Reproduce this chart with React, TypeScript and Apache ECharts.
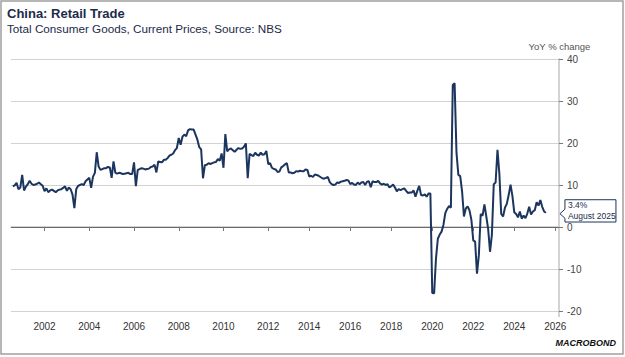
import React, { useEffect, useRef } from "react";
import * as echarts from "echarts";

// ---- Data (YoY % change, monthly; from 2012 January is not published separately) ----
const yoy2000 = [null, 9.7, 9.9, 10.5, 9.0, 9.4]; // Jul..Dec
const yoy2001 = [12.4, 8.7, 9.6, 10.2, 11.0, 10.3, 10.0, 10.1, 10.3, 10.6, 10.2, 9.8];
const yoy2002 = [8.5, 9.2, 8.3, 8.7, 8.9, 8.6, 8.3, 8.7, 8.9, 9.0, 9.3, 9.7];
const yoy2003 = [8.6, 9.4, 9.0, 7.7, 4.5, 9.0, 9.8, 10.0, 10.2, 10.0, 10.9, 11.3];
const yoy2004 = [11.7, 9.3, 12.0, 12.9, 17.8, 14.4, 13.6, 13.8, 14.0, 14.0, 14.3, 14.2];
const yoy2005 = [11.7, 15.6, 12.9, 12.7, 12.9, 12.8, 12.6, 12.7, 12.8, 12.9, 12.6, 12.6];
const yoy2006 = [15.4, 9.7, 13.6, 13.8, 14.0, 13.9, 13.7, 13.8, 13.9, 14.3, 14.4, 14.8];
const yoy2007 = [13.0, 15.6, 15.5, 15.4, 16.0, 16.0, 16.4, 17.0, 17.2, 17.5, 18.3, 18.8];
const yoy2008 = [21.2, 19.6, 21.5, 22.0, 21.6, 23.0, 23.3, 23.2, 23.2, 22.0, 20.8, 19.0];
const yoy2009 = [18.5, 11.6, 14.7, 14.8, 15.2, 15.0, 15.2, 15.4, 15.5, 16.2, 15.8, 17.5];
const yoy2010 = [14.1, 22.1, 18.0, 18.5, 18.7, 18.3, 17.9, 18.4, 18.8, 18.6, 18.7, 19.1];
const yoy2011 = [19.9, 11.6, 17.4, 17.1, 16.9, 17.7, 17.2, 17.0, 17.7, 17.2, 17.3, 18.1];
// Feb..Dec
const yoy2012 = [15.0, 15.2, 14.1, 13.8, 13.7, 13.1, 13.2, 14.2, 14.5, 14.9, 15.2];
const yoy2013 = [13.0, 13.0, 12.8, 12.9, 13.3, 13.2, 13.4, 13.3, 13.3, 13.7, 13.6];
const yoy2014 = [12.0, 12.2, 11.9, 12.5, 12.4, 12.2, 11.9, 11.6, 11.5, 11.7, 11.9];
const yoy2015 = [10.7, 10.2, 10.0, 10.1, 10.6, 10.5, 10.8, 10.9, 11.0, 11.2, 11.1];
const yoy2016 = [10.2, 10.5, 10.1, 10.0, 10.6, 10.2, 10.6, 10.7, 10.0, 10.8, 10.9];
const yoy2017 = [9.5, 10.9, 10.7, 10.7, 11.0, 10.4, 10.1, 10.3, 10.0, 10.2, 9.4];
const yoy2018 = [9.7, 10.1, 9.4, 8.5, 9.0, 8.8, 9.0, 9.2, 8.6, 8.1, 8.2];
const yoy2019 = [8.2, 8.7, 7.2, 8.6, 9.8, 7.6, 7.5, 7.8, 7.2, 8.0, 8.0];
const yoy2020 = [-15.7, -15.8, -7.5, -2.8, -1.8, -1.1, 0.5, 3.3, 4.3, 5.0, 4.6];
const yoy2021 = [33.8, 34.2, 17.7, 12.4, 12.1, 8.5, 2.5, 4.4, 4.9, 3.9, 1.7];
const yoy2022 = [-3.2, -3.5, -11.1, -6.7, 3.1, 2.7, 5.4, 2.5, -0.5, -5.9, -1.8];
const yoy2023 = [10.2, 10.6, 18.4, 12.7, 3.1, 2.5, 4.6, 5.5, 7.6, 10.1, 7.4];
const yoy2024 = [3.5, 3.1, 2.3, 3.7, 2.0, 2.7, 2.1, 3.2, 4.8, 3.0, 3.7];
const yoy2025 = [4.0, 5.9, 5.1, 6.4, 4.8, 3.7, 3.4]; // Feb..Aug

const yTicks = { min: -20, max: 40, interval: 10 };
const lastLabel = ["3.4%", "August 2025"];

const TITLE = "China: Retail Trade";
const SUBTITLE = "Total Consumer Goods, Current Prices, Source: NBS";
const Y_NAME = "YoY % change";

// categories: Jul 2000 .. Apr 2026, January omitted from 2012 on
const categories: string[] = [];
for (let y = 2000; y <= 2026; y++) {
  for (let m = 1; m <= 12; m++) {
    if (y === 2000 && m < 7) continue;
    if (y >= 2012 && m === 1) continue;
    if (y === 2026 && m > 4) break;
    categories.push(`${y}-${String(m).padStart(2, "0")}`);
  }
}

const values: (number | null)[] = [
  ...yoy2000, ...yoy2001, ...yoy2002, ...yoy2003, ...yoy2004, ...yoy2005,
  ...yoy2006, ...yoy2007, ...yoy2008, ...yoy2009, ...yoy2010, ...yoy2011,
  ...yoy2012, ...yoy2013, ...yoy2014, ...yoy2015, ...yoy2016, ...yoy2017,
  ...yoy2018, ...yoy2019, ...yoy2020, ...yoy2021, ...yoy2022, ...yoy2023,
  ...yoy2024, ...yoy2025,
];

const isYearStart = (value: string) => {
  const yr = +value.slice(0, 4);
  const m = value.slice(5);
  if (yr % 2 !== 0) return false;
  return yr < 2012 ? m === "01" : m === "02";
};

const FONT = "'Liberation Sans', Arial, sans-serif";
const NAVY = "#1c355e";

export default function App() {
  const ref = useRef<HTMLDivElement>(null);
  useEffect(() => {
    if (!ref.current) return;
    const chart = echarts.init(ref.current, null, { renderer: "svg" });
    const option: any = {
      animation: false,
      backgroundColor: "#ffffff",
      textStyle: { fontFamily: FONT },
      grid: { left: 11, right: 66, top: 59, bottom: 46, containLabel: false },
      xAxis: {
        type: "category",
        data: categories,
        boundaryGap: false,
        offset: 6,
        axisLine: { show: true, lineStyle: { color: "#c4c4c4", width: 1.5 } },
        axisTick: {
          show: true,
          length: 4,
          interval: (i: number, v: string) => isYearStart(v),
          lineStyle: { color: "#777" },
        },
        axisLabel: {
          interval: (i: number, v: string) => isYearStart(v),
          formatter: (v: string) => v.slice(0, 4),
          margin: 4,
          fontSize: 10,
          color: "#333",
          fontFamily: FONT,
        },
        splitLine: { show: false },
      },
      yAxis: {
        type: "value",
        position: "right",
        min: yTicks.min,
        max: yTicks.max,
        interval: yTicks.interval,
        axisLine: { show: true, lineStyle: { color: "#c4c4c4", width: 1.5 } },
        axisTick: { show: true, length: 4, lineStyle: { color: "#777" } },
        axisLabel: { margin: 8, fontSize: 10, color: "#444", fontFamily: FONT },
        splitLine: { show: true, lineStyle: { color: "#d2d2d2", width: 1 } },
      },
      series: [
        {
          type: "line",
          data: values,
          showSymbol: false,
          symbol: "none",
          connectNulls: false,
          lineStyle: { color: NAVY, width: 2 },
          z: 5,
          markLine: {
            silent: true,
            symbol: "none",
            label: { show: false },
            lineStyle: { color: "#6b6b6b", width: 1, type: "solid" },
            data: [{ yAxis: 0 }],
            z: 3,
          },
        },
      ],
      graphic: [
        {
          id: "frame",
          type: "rect",
          shape: { x: 1, y: 1, width: 622, height: 353 },
          style: { fill: "none", stroke: "#a0a0a0", lineWidth: 1.5 },
          silent: true,
        },
        {
          id: "axis-ext",
          type: "line",
          shape: { x1: 559, y1: 311, x2: 559, y2: 317 },
          style: { stroke: "#c4c4c4", lineWidth: 1.5 },
          silent: true,
        },
        {
          id: "title",
          type: "text",
          x: 7,
          y: 13.6,
          style: {
            text: TITLE,
            fill: "#1c2b4a",
            font: `bold 13px ${FONT}`,
            textVerticalAlign: "middle",
          },
        },
        {
          id: "subtitle",
          type: "text",
          x: 7,
          y: 28.2,
          style: {
            text: SUBTITLE,
            fill: "#1c2b4a",
            font: `11.7px ${FONT}`,
            textVerticalAlign: "middle",
          },
        },
        {
          id: "yname",
          type: "text",
          x: 559.5,
          y: 46,
          style: {
            text: Y_NAME,
            fill: "#555",
            font: `9.5px ${FONT}`,
            textAlign: "center",
            textVerticalAlign: "middle",
          },
        },
        {
          id: "logo",
          type: "text",
          x: 616,
          y: 342.5,
          style: {
            text: "MACROBOND",
            fill: "#111",
            font: `italic 900 9px ${FONT}`,
            textAlign: "right",
            textVerticalAlign: "middle",
          },
        },
      ],
    };
    chart.setOption(option);

    // callout for the last observation
    let lastIdx = values.length - 1;
    while (lastIdx > 0 && values[lastIdx] == null) lastIdx--;
    const p = chart.convertToPixel({ seriesIndex: 0 }, [lastIdx, values[lastIdx] as number]) as number[];
    if (p) {
      const tipX = p[0] + 14;
      const tipY = p[1] + 1;
      const bx = tipX + 5;
      const top = tipY - 14;
      const bottom = tipY + 8.3;
      const right = bx + 51;
      chart.setOption({
        graphic: [
          {
            id: "callout",
            type: "polygon",
            shape: {
              points: [
                [tipX, tipY],
                [bx, tipY - 4.5],
                [bx, top],
                [right, top],
                [right, bottom],
                [bx, bottom],
                [bx, tipY + 4.5],
              ],
            },
            style: { fill: "#ffffff", stroke: NAVY, lineWidth: 1 },
            z: 10,
          },
          {
            id: "callout-t1",
            type: "text",
            x: bx + 3,
            y: top + 5.7,
            z: 11,
            style: {
              text: lastLabel[0],
              fill: "#1c2b4a",
              font: `8.5px ${FONT}`,
              textVerticalAlign: "middle",
            },
          },
          {
            id: "callout-t2",
            type: "text",
            x: bx + 3,
            y: top + 16.5,
            z: 11,
            style: {
              text: lastLabel[1],
              fill: "#1c2b4a",
              font: `8.5px ${FONT}`,
              textVerticalAlign: "middle",
            },
          },
        ],
      });
    }
    return () => chart.dispose();
  }, []);
  return (
    <div
      ref={ref}
      style={{ position: "absolute", left: 0, top: 0, width: 625, height: 357 }}
    />
  );
}
